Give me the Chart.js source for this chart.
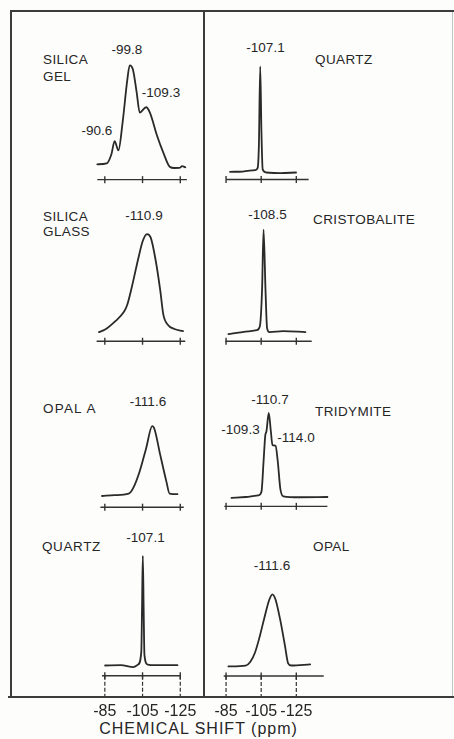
<!DOCTYPE html>
<html>
<head>
<meta charset="utf-8">
<script src="https://cdn.jsdelivr.net/npm/chart.js@4.4.1/dist/chart.umd.min.js"></script>
<style>
  html, body { margin: 0; padding: 0; background: #ffffff; }
  #fig { position: relative; width: 454px; height: 739px; overflow: hidden; background: #fdfdfc;
         font-family: "Liberation Sans", Arial, sans-serif; color: #262626; }
  .ln { position: absolute; background: #3c3c3c; }
  .t { position: absolute; font-size: 13.5px; line-height: 1; white-space: nowrap; letter-spacing: 0.4px; }
  .pk { font-size: 13.5px; letter-spacing: 0px; transform: translateX(-50%); }
  canvas { position: absolute; }
</style>
</head>
<body>
<div id="fig"></div>
<script>
// ================= DATA =================
const tickValues = [-85, -105, -125];
const tickLabels = ['-85', '-105', '-125'];
const axisTitle = 'CHEMICAL SHIFT (ppm)';

// left column
const silicaGelName = ['SILICA', 'GEL'];
const silicaGelPeaks = ['-99.8', '-109.3', '-90.6'];
const silicaGelShift = [-81, -86, -88.5, -90.2, -92.2, -94.4, -96.9, -98.2, -99.9, -101.9, -103.5, -106.9, -108.9, -112.7, -116, -119.4, -121.9, -124.5, -126, -127.7];
const silicaGelIntensity = [2.1, 3.0, 12.1, 25, 15.8, 43.1, 85.4, 100, 96, 73.2, 53.3, 58.6, 53.3, 30.4, 13.7, -0.3, -1.6, -1.5, 0.2, -0.9];

const silicaGlassName = ['SILICA', 'GLASS'];
const silicaGlassPeaks = ['-110.9'];
const silicaGlassShift = [-81.85, -85.15, -90.15, -95.15, -96.85, -99.35, -102.65, -105.15, -107.35, -109.35, -111.85, -114.35, -116, -118.5, -121.85, -126.5];
const silicaGlassIntensity = [0, 2.5, 10.3, 20.6, 27.5, 46.2, 74.3, 93.1, 100, 96.3, 74.3, 43.1, 18.1, 7.2, 3.1, 0.9];

const opalAName = ['OPAL A'];
const opalAPeaks = ['-111.6'];
const opalAShift = [-83.5, -90.15, -97.65, -100.15, -103.5, -106.85, -110.15, -111.35, -114.35, -117.65, -119.35, -123.5];
const opalAIntensity = [-1.7, -0.4, 1.7, 10.5, 34.5, 67.3, 100, 95.7, 58.6, 19.3, 1.7, 0.9];

const quartzAName = ['QUARTZ'];
const quartzAPeaks = ['-107.1'];
const quartzAShift = [-85.15, -93.5, -100.15, -102.65, -104.35, -104.75, -105.15, -105.6, -106, -107.65, -111.85, -123.5];
const quartzAIntensity = [-0.3, 0, -1.8, 0.6, 12.4, 55, 100, 50, 9.4, 0.6, 0, 0];

// right column
const quartzBName = ['QUARTZ'];
const quartzBPeaks = ['-107.1'];
const quartzBShift = [-87.25, -94.4, -101.55, -103, -103.7, -104.45, -105.15, -105.85, -107.8, -115.9, -124.85];
const quartzBIntensity = [0, 0.3, 1.7, 3.8, 25.6, 100, 37.6, 2.3, -0.6, -1.2, -0.6];

const cristobaliteName = ['CRISTOBALITE'];
const cristobalitePeaks = ['-108.5'];
const cristobaliteShift = [-86.35, -94.4, -102.45, -104.2, -105.5, -106.35, -107.45, -108.35, -109.6, -117.65, -130.2];
const cristobaliteIntensity = [-2.1, 0, 1.8, 5.4, 41.4, 100, 41.4, 3.9, 0, 0.9, 0];

const tridymiteName = ['TRIDYMITE'];
const tridymitePeaks = ['-110.7', '-109.3', '-114.0'];
const tridymiteShift = [-88.1, -96.15, -103.35, -105.15, -106.35, -107.3, -108, -109.3, -110.5, -111.4, -113.2, -114.45, -115.9, -117.65, -126.6, -142.7];
const tridymiteIntensity = [-0.8, 0.3, 2.2, 6.5, 42.4, 72.9, 78.3, 100, 78.3, 62.1, 61, 42.4, 10, 1.1, 0, 0.3];

const opalBName = ['OPAL'];
const opalBPeaks = ['-111.6'];
const opalBShift = [-86.35, -96.15, -98.85, -101.55, -104.2, -106.9, -109.6, -111.4, -113.2, -115.9, -118.55, -120.35, -122.15, -132.9];
const opalBIntensity = [-1.3, 0, 5.4, 18.7, 41.1, 67.9, 92.4, 100, 92.4, 63.3, 27.6, 3.1, 0, 1.7];

// ================= LAYOUT / STYLE =================
const INK = '#2a2a2a';
const AXIS_INK = '#333333';
const FONT = '"Liberation Sans", Arial, sans-serif';
const fig = document.getElementById('fig');

// column canvases: left edge, width, and ppm at left/right edges (reversed NMR axis)
const columns = {
  L: { left: 40, width: 190, ppmLeft: -53.5, ppmRight: -148.5 },
  R: { left: 190, width: 190, ppmLeft: -67.55, ppmRight: -169.56 }
};
const BOTTOM_AXIS_H = 26;

const panels = [
  { col: 'L', top: 53,  h: 140, yMin: -21,   yMax: 107,   axisY: -13.1, axisFrom: -81,    axisTo: -128.5, shift: silicaGelShift, inten: silicaGelIntensity },
  { col: 'L', top: 221, h: 133, yMin: -16.9, yMax: 107.8, axisY: -9.4,  axisFrom: -80.65, axisTo: -127.65, shift: silicaGlassShift, inten: silicaGlassIntensity },
  { col: 'L', top: 413, h: 107, yMin: -28.8, yMax: 111.4, axisY: -18,   axisFrom: -82.65, axisTo: -126.85, shift: opalAShift, inten: opalAIntensity },
  { col: 'L', top: 542, h: 154, yMin: -28.2, yMax: 107.7, axisY: -9.7,  axisFrom: -83.5,  axisTo: -125,   shift: quartzAShift, inten: quartzAIntensity, bottom: true },
  { col: 'R', top: 54,  h: 138, yMin: -14,   yMax: 106.7, axisY: -7.3,  axisFrom: -85.1,  axisTo: -132,   shift: quartzBShift, inten: quartzBIntensity },
  { col: 'R', top: 217, h: 137, yMin: -16.2, yMax: 107.2, axisY: -9,    axisFrom: -84.6,  axisTo: -133.75, shift: cristobaliteShift, inten: cristobaliteIntensity },
  { col: 'R', top: 400, h: 119, yMin: -19.4, yMax: 109,   axisY: -10.8, axisFrom: -84,    axisTo: -142.7, shift: tridymiteShift, inten: tridymiteIntensity },
  { col: 'R', top: 581, h: 115, yMin: -42.8, yMax: 111.1, axisY: -14.7, axisFrom: -83.65, axisTo: -140.6, shift: opalBShift, inten: opalBIntensity, bottom: true }
];

// frame lines
function line(l, t, w, h, color) {
  const d = document.createElement('div');
  d.className = 'ln';
  d.style.cssText = `left:${l}px;top:${t}px;width:${w}px;height:${h}px;` + (color ? `background:${color};` : '');
  fig.appendChild(d);
}
line(10, 10, 444, 2);        // top
line(10, 10, 2, 687);        // left
line(8, 695.5, 446, 2);      // bottom
line(203, 10, 2, 687);       // divider
line(452, 12, 1, 684, '#c4c4c4'); // faint right edge

function text(str, left, top, cls, extra) {
  const d = document.createElement('div');
  d.className = 't' + (cls ? ' ' + cls : '');
  d.textContent = str;
  d.style.left = left + 'px';
  d.style.top = top + 'px';
  if (extra) Object.assign(d.style, extra);
  fig.appendChild(d);
}

// panel names (left aligned) and peak labels (centered)
text(silicaGelName[0], 43, 53); text(silicaGelName[1], 43, 70);
text(silicaGelPeaks[0], 127, 43, 'pk'); text(silicaGelPeaks[1], 161, 86, 'pk'); text(silicaGelPeaks[2], 97, 124, 'pk');
text(silicaGlassName[0], 43, 210); text(silicaGlassName[1], 43, 225);
text(silicaGlassPeaks[0], 144, 209, 'pk');
text(opalAName[0], 43, 402, null, { letterSpacing: '1.2px' });
text(opalAPeaks[0], 148, 395, 'pk');
text(quartzAName[0], 42, 540, null, { letterSpacing: '0.6px' });
text(quartzAPeaks[0], 145.5, 531, 'pk');
text(quartzBPeaks[0], 265.5, 41, 'pk');
text(quartzBName[0], 315, 53);
text(cristobalitePeaks[0], 267.5, 208, 'pk');
text(cristobaliteName[0], 313, 213);
text(tridymitePeaks[0], 270, 393, 'pk');
text(tridymiteName[0], 315, 405);
text(tridymitePeaks[1], 240.5, 423, 'pk');
text(tridymitePeaks[2], 296, 431, 'pk');
text(opalBName[0], 313, 540);
text(opalBPeaks[0], 272, 559, 'pk');
text(axisTitle, 198.5, 721, null, { fontSize: '16px', letterSpacing: '1px', transform: 'translateX(-50%)' });

// charts
panels.forEach(p => {
  const col = columns[p.col];
  const canvasH = p.h + (p.bottom ? BOTTOM_AXIS_H : 0);
  const cv = document.createElement('canvas');
  cv.width = col.width; cv.height = canvasH;
  cv.style.left = col.left + 'px'; cv.style.top = p.top + 'px';
  cv.style.width = col.width + 'px'; cv.style.height = canvasH + 'px';
  fig.appendChild(cv);

  const datasets = [
    { data: p.shift.map((x, i) => ({ x, y: p.inten[i] })), borderColor: INK, borderWidth: 1.8,
      pointRadius: 0, cubicInterpolationMode: 'monotone', clip: false, borderJoinStyle: 'round', borderCapStyle: 'round' },
    { data: [{ x: p.axisFrom, y: p.axisY }, { x: p.axisTo, y: p.axisY }], borderColor: AXIS_INK, borderWidth: 1.4,
      pointRadius: 0, clip: false },
    { data: tickValues.map(v => ({ x: v, y: p.axisY })), showLine: false, pointStyle: 'line', pointRotation: 90,
      pointRadius: 3.5, pointBorderColor: AXIS_INK, pointBorderWidth: 1.4, clip: false }
  ];
  if (p.bottom) {
    tickValues.forEach(v => datasets.push({
      data: [{ x: v, y: p.axisY }, { x: v, y: p.yMin }], borderColor: AXIS_INK, borderWidth: 1.2,
      borderDash: [4, 2], pointRadius: 0, clip: false
    }));
  }

  const xScale = {
    type: 'linear', reverse: true, min: col.ppmRight, max: col.ppmLeft,
    display: !!p.bottom, position: 'bottom',
    grid: { display: false, drawTicks: false }, border: { display: false },
    afterBuildTicks: s => { s.ticks = tickValues.map(v => ({ value: v })); },
    ticks: { padding: 6, maxRotation: 0, autoSkip: false, color: '#262626',
             font: { family: FONT, size: 16 },
             callback: (v, i) => tickLabels[i] }
  };
  if (p.bottom) xScale.afterFit = s => { s.height = BOTTOM_AXIS_H; };

  new Chart(cv, {
    type: 'line',
    data: { datasets },
    options: {
      responsive: false, animation: false, events: [],
      layout: { padding: 0 },
      plugins: { legend: { display: false }, tooltip: { enabled: false }, title: { display: false } },
      scales: {
        x: xScale,
        y: { type: 'linear', display: false, min: p.yMin, max: p.yMax }
      }
    }
  });
});
</script>
</body>
</html>
